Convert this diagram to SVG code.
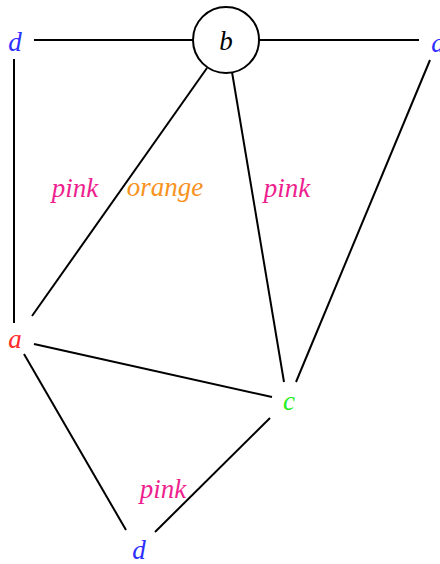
<svg xmlns="http://www.w3.org/2000/svg" width="440" height="564" viewBox="0 0 440 564">
<style>
text{font-family:"Liberation Serif","DejaVu Serif",serif;font-style:italic;font-size:27px;text-anchor:middle;dominant-baseline:central}
.e{stroke:#000;stroke-width:2;fill:none}
.blue{fill:#2f2fff}.red{fill:#ff2a2a}.green{fill:#22ee22}.pink{fill:#ee1f8f}.orange{fill:#f7931e}
</style>
<rect width="440" height="564" fill="#fff"/>
<g id="connectors">
<line class="e" x1="34" y1="40" x2="193" y2="40"/>
<line class="e" x1="259" y1="40" x2="419" y2="40"/>
<line class="e" x1="14" y1="59" x2="14" y2="323"/>
<line class="e" x1="207" y1="68" x2="32" y2="316"/>
<line class="e" x1="232" y1="72" x2="284" y2="382"/>
<line class="e" x1="430" y1="60" x2="296" y2="382"/>
<line class="e" x1="34" y1="344" x2="272" y2="397"/>
<line class="e" x1="24" y1="354" x2="126" y2="530"/>
<line class="e" x1="270" y1="418" x2="155" y2="532"/>
</g>
<g id="labels">
<text class="pink" x="75" y="188">pink</text>
<text class="orange" x="165" y="187">orange</text>
<text class="pink" x="287" y="188">pink</text>
<text class="pink" x="163" y="489">pink</text>
</g>
<g id="node-d1"><text class="blue" x="15" y="42">d</text></g>
<g id="node-b"><circle cx="226" cy="40" r="33" fill="#fff" stroke="#000" stroke-width="2"/><text x="226" y="41">b</text></g>
<g id="node-a1"><text class="blue" x="438" y="43">a</text></g>
<g id="node-a2"><text class="red" x="15" y="339">a</text></g>
<g id="node-c"><text class="green" x="289" y="401">c</text></g>
<g id="node-d2"><text class="blue" x="139" y="550">d</text></g>
</svg>
